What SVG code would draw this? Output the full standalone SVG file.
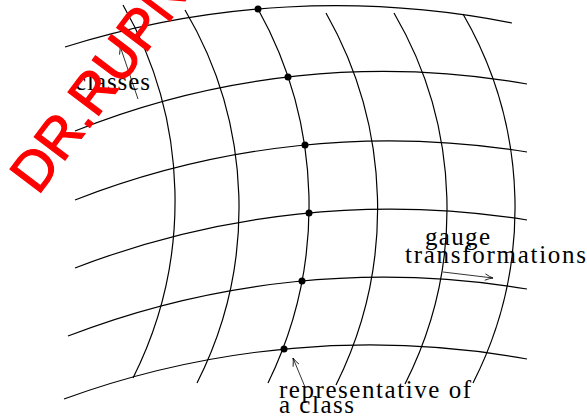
<svg xmlns="http://www.w3.org/2000/svg" width="587" height="419" viewBox="0 0 587 419">
<defs>
<style>
.grid{fill:none;stroke:#000;stroke-width:1.2}
.dot{fill:#000}
.lbl{font-family:"Liberation Serif","Times New Roman",serif;font-size:25px;fill:#000}
.arw{fill:none;stroke:#000;stroke-width:0.8}
.wm{font-family:"Liberation Sans",Arial,sans-serif;font-size:56px;fill:#ff0000;stroke:#ff0000;stroke-width:1.2}
</style>
<marker id="ah" viewBox="-9 -5 10 10" refX="0" refY="0" markerWidth="10" markerHeight="10" markerUnits="userSpaceOnUse" orient="auto">
<path d="M-8,-3.2 Q-3,-0.6 0,0 Q-3,0.6 -8,3.2" fill="none" stroke="#000" stroke-width="0.8"/>
</marker>
</defs>
<rect width="587" height="419" fill="#fff"/>
<g id="connectors">
<g id="h-lines">
<path class="grid" d="M65,47 A906.5,906.5 0 0 1 512,23"/>
<path class="grid" d="M75,131 A829.2,829.2 0 0 1 527,84"/>
<path class="grid" d="M75,200 A863.8,863.8 0 0 1 527,152"/>
<path class="grid" d="M75,268 A874.3,874.3 0 0 1 527,220"/>
<path class="grid" d="M68,336 A876.3,876.3 0 0 1 527,289"/>
<path class="grid" d="M64,399 A891.2,891.2 0 0 1 527,359"/>
</g>
<g id="v-lines">
<path class="grid" d="M123,5 A394.4,394.4 0 0 1 133,378"/>
<path class="grid" d="M185,10 A387.8,387.8 0 0 1 197,383"/>
<path class="grid" d="M258,9 A404,404 0 0 1 268,383"/>
<path class="grid" d="M326,13 A395.6,395.6 0 0 1 336,385"/>
<path class="grid" d="M394,13 A387.3,387.3 0 0 1 405,384"/>
<path class="grid" d="M463,14 A386.5,386.5 0 0 1 473,383"/>
</g>
<g id="arrows">
<path class="arw" d="M443,272 L493,278" marker-end="url(#ah)"/>
<path class="arw" d="M138,99 L120,46" marker-end="url(#ah)"/>
<path class="arw" d="M305,387 L293,358" marker-end="url(#ah)"/>
</g>
</g>
<g id="representatives">
<circle class="dot" cx="258" cy="9" r="3.5"/>
<circle class="dot" cx="288" cy="77" r="3.5"/>
<circle class="dot" cx="305" cy="145" r="3.5"/>
<circle class="dot" cx="309" cy="213" r="3.5"/>
<circle class="dot" cx="302" cy="281" r="3.5"/>
<circle class="dot" cx="284" cy="349" r="3.5"/>
</g>
<g id="label-classes"><text class="lbl" x="75" y="90" textLength="75" lengthAdjust="spacing">classes</text></g>
<g id="label-gauge">
<text class="lbl" x="425" y="245" textLength="65" lengthAdjust="spacing">gauge</text>
<text class="lbl" x="405" y="263" textLength="181" lengthAdjust="spacing">transformations</text>
</g>
<g id="label-representative">
<text class="lbl" x="279" y="398" textLength="192" lengthAdjust="spacing">representative of</text>
<text class="lbl" x="279" y="413" textLength="75" lengthAdjust="spacing">a class</text>
</g>
<g id="watermark"><text class="wm" x="38" y="196" transform="rotate(-53 38 196)">DR.RUPNATHJI</text></g>
</svg>
